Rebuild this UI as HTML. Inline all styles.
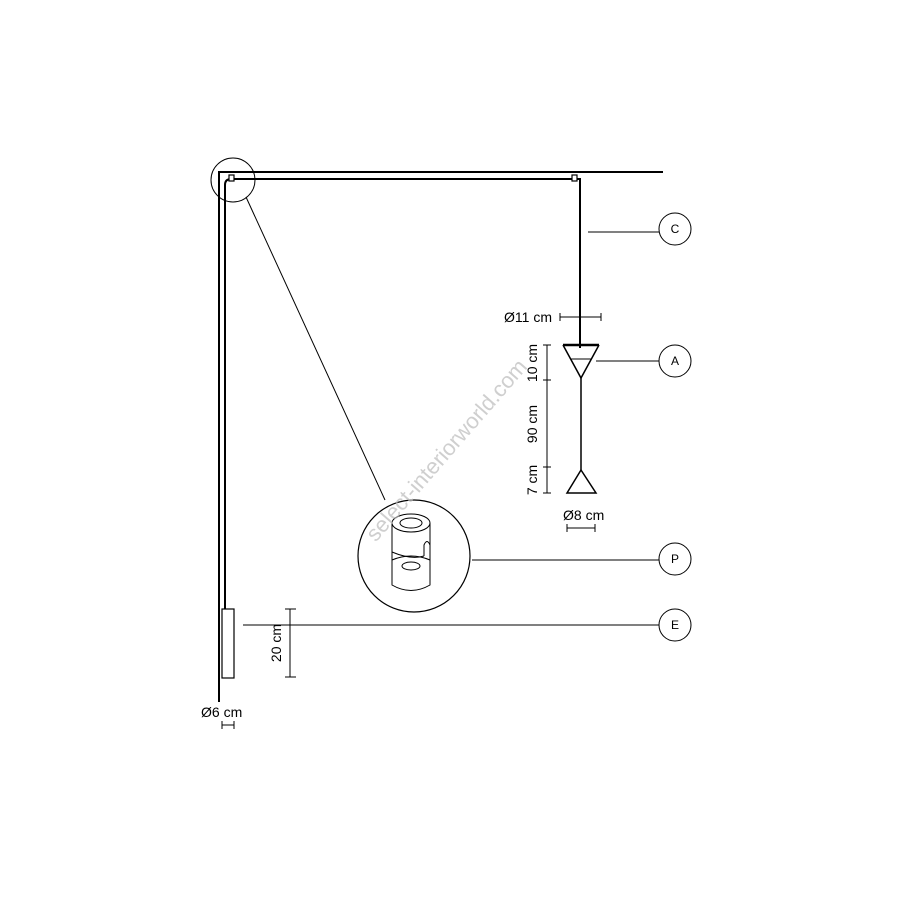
<!DOCTYPE html>
<html><head><style>body{margin:0;background:#fff}</style></head><body>
<svg width="900" height="900" viewBox="0 0 900 900" xmlns="http://www.w3.org/2000/svg" font-family="Liberation Sans, sans-serif">
<rect width="900" height="900" fill="#fff"/>
<g stroke="#000" fill="none">
<path d="M219 702 V172 H663" stroke-width="2"/>
<path d="M225 609 V185 Q225 179 231 179 H580 V348" stroke-width="2"/>
<rect x="229" y="175" width="5" height="6" stroke-width="1.2" fill="#fff"/>
<rect x="572" y="175" width="5" height="6" stroke-width="1.2" fill="#fff"/>
<rect x="222" y="609" width="12" height="69" stroke-width="1.2"/>
<circle cx="233" cy="180" r="22" stroke-width="1"/>
<line x1="246" y1="197" x2="385" y2="500" stroke-width="1"/>
<circle cx="414" cy="556" r="56" stroke-width="1.2"/>
<g stroke-width="1">
<ellipse cx="411" cy="523" rx="19" ry="9"/>
<ellipse cx="411" cy="523" rx="11" ry="5"/>
<path d="M392 523 V585 Q411 596 430 585 V523"/>
<path d="M392 552 Q411 560 424 556"/>
<path d="M392 560 Q411 552 430 560"/>
<ellipse cx="411" cy="566" rx="9" ry="4"/>
<path d="M424 556 V545 Q427 538 430 545"/>
</g>
<line x1="563" y1="345" x2="599" y2="345" stroke-width="2.5"/>
<path d="M563 345 L581 378 L599 345" stroke-width="1.5"/>
<line x1="571" y1="359" x2="591" y2="359" stroke-width="1"/>
<line x1="581" y1="378" x2="581" y2="470" stroke-width="1.5"/>
<path d="M567 493 L581 470 L596 493 Z" stroke-width="1.5"/>
<g stroke-width="1">
<path d="M547 345 V493 M543 345 H551 M543 380 H551 M543 467 H551 M543 493 H551"/>
<path d="M560 317 H601 M560 313 V321 M601 313 V321"/>
<path d="M567 528 H595 M567 524 V532 M595 524 V532"/>
<path d="M290 609 V677 M285 609 H296 M285 677 H296"/>
<path d="M222 725 H234 M222 721 V729 M234 721 V729"/>
<line x1="588" y1="232" x2="659" y2="232"/>
<line x1="596" y1="361" x2="659" y2="361"/>
<line x1="472" y1="560" x2="659" y2="560"/>
<line x1="243" y1="625" x2="659" y2="625"/>
<circle cx="675" cy="229" r="16"/><circle cx="675" cy="361" r="16"/>
<circle cx="675" cy="559" r="16"/><circle cx="675" cy="625" r="16"/>
</g>
</g>
<g font-size="12" text-anchor="middle" fill="#000">
<text x="675" y="233">C</text><text x="675" y="365">A</text>
<text x="675" y="563">P</text><text x="675" y="629">E</text>
</g>
<g font-size="14" fill="#000">
<text x="504" y="322">Ø11 cm</text>
<text x="563" y="520">Ø8 cm</text>
<text x="201" y="717">Ø6 cm</text>
<text transform="translate(537,363) rotate(-90)" text-anchor="middle">10 cm</text>
<text transform="translate(537,424) rotate(-90)" text-anchor="middle">90 cm</text>
<text transform="translate(537,480) rotate(-90)" text-anchor="middle">7 cm</text>
<text transform="translate(281,643) rotate(-90)" text-anchor="middle">20 cm</text>
</g>
<text transform="translate(452,455) rotate(-49)" text-anchor="middle" font-size="22" fill="#bbb" opacity="0.7">select-interiorworld.com</text>
</svg>
</body></html>
